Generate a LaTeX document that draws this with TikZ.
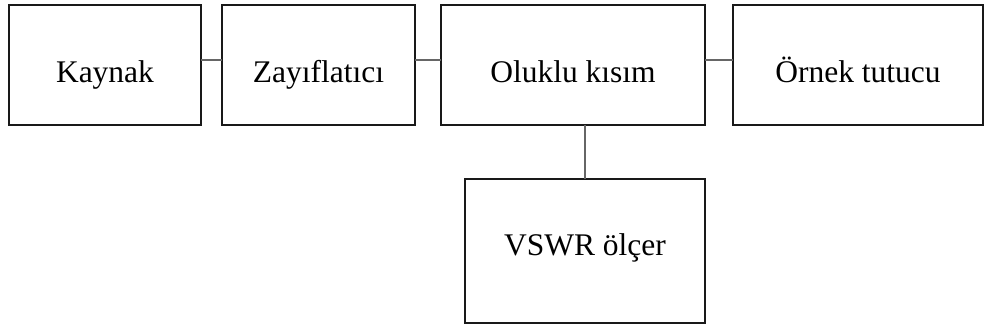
\documentclass[tikz,border=0pt]{standalone}
\usepackage{fontspec}
\setmainfont{Liberation Serif}
\usetikzlibrary{positioning}

\begin{document}
\begin{tikzpicture}[x=1pt,y=1pt,
  block/.style={rectangle,draw=black!90,line width=2pt,outer sep=0pt,minimum height=120pt,
    text height=34pt,text depth=0pt,font=\fontsize{31.5}{36}\selectfont},
  link/.style={draw=black!60,line width=2.6pt}]

 \useasboundingbox (0,0) rectangle (987,-329);

 \node[block,minimum width=192pt] (kaynak) at (105,-65) {Kaynak};
 \node[block,minimum width=193pt] (zayif) [right=21pt of kaynak] {Zayıflatıcı};
 \node[block,minimum width=264pt] (oluklu) [right=26pt of zayif] {Oluklu kısım};
 \node[block,minimum width=250pt] (ornek) [right=28pt of oluklu] {Örnek tutucu};
 \node[block,minimum width=240pt,minimum height=144pt,text height=22pt,text depth=14pt]
   (vswr) [below left=54pt and 0pt of oluklu.south east] {VSWR ölçer};

 \path[link]
    ([yshift=5pt]kaynak.east)	edge ([yshift=5pt]zayif.west)
    ([yshift=5pt]zayif.east)	edge ([yshift=5pt]oluklu.west)
    ([yshift=5pt]oluklu.east)	edge ([yshift=5pt]ornek.west)
    (vswr.north)	edge (vswr.north |- oluklu.south);

\end{tikzpicture}
\end{document}
